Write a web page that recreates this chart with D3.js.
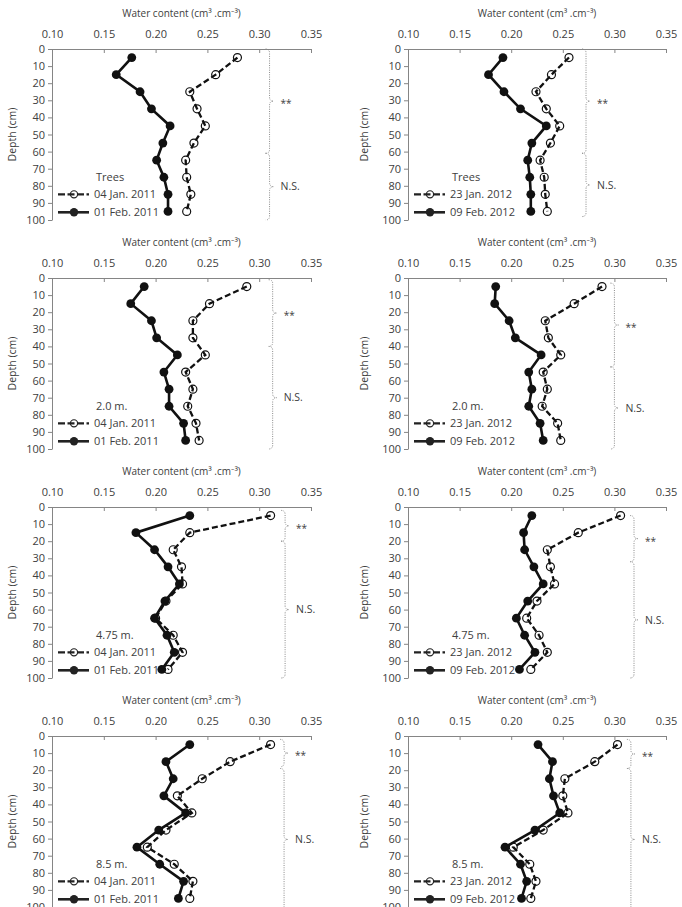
<!DOCTYPE html>
<html>
<head>
<meta charset="utf-8">
<script src="https://cdn.jsdelivr.net/npm/d3@7"></script>
<style>
  html, body { margin: 0; padding: 0; background: #fff; }
  svg text { font-family: "Open Sans", "Noto Sans", sans-serif; fill: #404040; }
</style>
</head>
<body>
<svg id="chart" width="682" height="907"></svg>
<script>
// ---------------- DATA ----------------
const depths = [5, 15, 25, 35, 45, 55, 65, 75, 85, 95];
const xTicks = [0.10, 0.15, 0.20, 0.25, 0.30, 0.35];
const yTicks = [0, 10, 20, 30, 40, 50, 60, 70, 80, 90, 100];

const positions = ["Trees", "2.0 m.", "4.75 m.", "8.5 m."];
const dates2011 = ["04 Jan. 2011", "01 Feb. 2011"];
const dates2012 = ["23 Jan. 2012", "09 Feb. 2012"];

const treesJan2011 = [0.279, 0.258, 0.233, 0.240, 0.248, 0.237, 0.229, 0.230, 0.234, 0.230];
const treesFeb2011 = [0.177, 0.162, 0.185, 0.196, 0.214, 0.207, 0.201, 0.208, 0.212, 0.212];
const treesJan2012 = [0.256, 0.239, 0.224, 0.234, 0.247, 0.238, 0.228, 0.232, 0.233, 0.235];
const treesFeb2012 = [0.192, 0.178, 0.193, 0.209, 0.234, 0.220, 0.216, 0.218, 0.219, 0.219];

const m2Jan2011 = [0.288, 0.252, 0.236, 0.236, 0.248, 0.229, 0.236, 0.231, 0.239, 0.242];
const m2Feb2011 = [0.189, 0.176, 0.196, 0.201, 0.221, 0.208, 0.213, 0.213, 0.227, 0.229];
const m2Jan2012 = [0.288, 0.261, 0.233, 0.236, 0.248, 0.231, 0.235, 0.230, 0.245, 0.248];
const m2Feb2012 = [0.185, 0.184, 0.198, 0.204, 0.229, 0.217, 0.220, 0.217, 0.228, 0.231];

const m475Jan2011 = [0.311, 0.233, 0.217, 0.225, 0.226, 0.210, 0.200, 0.217, 0.226, 0.212];
const m475Feb2011 = [0.233, 0.181, 0.199, 0.212, 0.223, 0.209, 0.199, 0.211, 0.218, 0.206];
const m475Jan2012 = [0.306, 0.265, 0.235, 0.238, 0.242, 0.225, 0.215, 0.227, 0.235, 0.219];
const m475Feb2012 = [0.220, 0.212, 0.213, 0.222, 0.231, 0.216, 0.205, 0.213, 0.223, 0.208];

const m85Jan2011 = [0.311, 0.272, 0.245, 0.221, 0.235, 0.210, 0.192, 0.218, 0.236, 0.233];
const m85Feb2011 = [0.233, 0.210, 0.217, 0.208, 0.229, 0.203, 0.182, 0.204, 0.227, 0.222];
const m85Jan2012 = [0.303, 0.281, 0.252, 0.250, 0.255, 0.231, 0.202, 0.218, 0.224, 0.219];
const m85Feb2012 = [0.226, 0.240, 0.237, 0.241, 0.247, 0.223, 0.194, 0.209, 0.215, 0.210];

// significance braces: [fromDepth, toDepth, label], x value of brace
const bracesLabels = ["**", "N.S."];
const panelBraces = [
  { x: 0.310, spans: [[0, 61], [61, 100]] },
  { x: 0.2725, spans: [[0, 61], [61, 98]] },
  { x: 0.313, spans: [[1, 40], [40, 100]] },
  { x: 0.300, spans: [[3, 52], [52, 100]] },
  { x: 0.325, spans: [[2, 20], [20, 100]] },
  { x: 0.319, spans: [[5, 32], [32, 100]] },
  { x: 0.324, spans: [[2, 18], [19, 102]] },
  { x: 0.316, spans: [[2, 19], [19, 102]] }
];

const panels = [
  { label: positions[0], dates: dates2011, jan: treesJan2011, feb: treesFeb2011 },
  { label: positions[0], dates: dates2012, jan: treesJan2012, feb: treesFeb2012 },
  { label: positions[1], dates: dates2011, jan: m2Jan2011, feb: m2Feb2011 },
  { label: positions[1], dates: dates2012, jan: m2Jan2012, feb: m2Feb2012 },
  { label: positions[2], dates: dates2011, jan: m475Jan2011, feb: m475Feb2011 },
  { label: positions[2], dates: dates2012, jan: m475Jan2012, feb: m475Feb2012 },
  { label: positions[3], dates: dates2011, jan: m85Jan2011, feb: m85Feb2011 },
  { label: positions[3], dates: dates2012, jan: m85Jan2012, feb: m85Feb2012 }
];

// ---------------- LAYOUT ----------------
const colX = [52, 408];
const colW = [259, 258];
const rowY = [49, 278, 507, 736];
const plotH = 171;
const axisColor = "#858585";

const svg = d3.select("#chart");

function bracePath(vx, y1, y2, w) {
  const mid = (y1 + y2) / 2;
  const x = vx - w;
  return `M${x},${y1} Q${vx},${y1} ${vx},${y1 + w} L${vx},${mid - w} Q${vx},${mid} ${vx + w},${mid} ` +
         `Q${vx},${mid} ${vx},${mid + w} L${vx},${y2 - w} Q${vx},${y2} ${x},${y2}`;
}

panels.forEach((p, i) => {
  const c = i % 2, r = Math.floor(i / 2);
  const x0 = colX[c], w = colW[c], y0 = rowY[r];
  const x = d3.scaleLinear().domain([0.10, 0.35]).range([x0, x0 + w]);
  const y = d3.scaleLinear().domain([0, 100]).range([y0, y0 + plotH]);
  const g = svg.append("g");

  // x axis (top)
  const xa = g.append("g").attr("transform", `translate(0,${y0})`)
    .call(d3.axisTop(x).tickValues(xTicks).tickFormat(d3.format(".2f"))
      .tickSizeInner(-4).tickSizeOuter(0).tickPadding(11));
  // y axis
  const ya = g.append("g").attr("transform", `translate(${x0},0)`)
    .call(d3.axisLeft(y).tickValues(yTicks).tickSizeInner(4).tickSizeOuter(0).tickPadding(3));
  [xa, ya].forEach(a => {
    a.selectAll("path, line").attr("stroke", axisColor).attr("stroke-width", 1);
    a.selectAll("text").attr("font-size", 11).attr("fill", "#404040")
      .style("font-family", "'Open Sans', sans-serif");
  });

  // axis titles
  g.append("text").attr("x", x0 + w / 2).attr("y", y0 - 32)
    .attr("text-anchor", "middle").attr("font-size", 10)
    .text("Water content (cm³ .cm⁻³)");
  const ylx = c === 0 ? 12 : 364;
  g.append("text").attr("transform", `translate(${ylx},${y0 + plotH / 2}) rotate(-90)`)
    .attr("text-anchor", "middle").attr("dy", "0.35em").attr("font-size", 10.5)
    .text("Depth (cm)");

  // braces
  const b = panelBraces[i];
  b.spans.forEach((s, k) => {
    const vx = x(b.x);
    const ya1 = y(s[0]), ya2 = y(s[1]);
    g.append("path").attr("d", bracePath(vx, ya1, ya2, 4))
      .attr("fill", "none").attr("stroke", "#8a8a8a").attr("stroke-width", 1)
      .attr("stroke-dasharray", "1,1.3");
    g.append("text").attr("x", vx + 11).attr("y", (ya1 + ya2) / 2)
      .attr("dy", k === 0 ? "0.6em" : "0.35em").attr("font-size", k === 0 ? 10 : 10.5)
      .attr("fill", "#555")
      .text(bracesLabels[k]);
  });

  const line = d3.line().x(d => x(d[0])).y(d => y(d[1]));
  const janPts = p.jan.map((v, j) => [v, depths[j]]);
  const febPts = p.feb.map((v, j) => [v, depths[j]]);

  // dashed series (first date): open markers, line drawn through
  g.selectAll(null).data(janPts).enter().append("circle")
    .attr("cx", d => x(d[0])).attr("cy", d => y(d[1])).attr("r", 4)
    .attr("fill", "#fff").attr("stroke", "#111").attr("stroke-width", 1.2);
  g.append("path").attr("d", line(janPts)).attr("fill", "none")
    .attr("stroke", "#111").attr("stroke-width", 2.3).attr("stroke-dasharray", "6,3");

  // solid series (second date)
  g.append("path").attr("d", line(febPts)).attr("fill", "none")
    .attr("stroke", "#111").attr("stroke-width", 2.6);
  g.selectAll(null).data(febPts).enter().append("circle")
    .attr("cx", d => x(d[0])).attr("cy", d => y(d[1])).attr("r", 4.4)
    .attr("fill", "#111");

  // legend
  const lx = x0 + 6;
  g.append("text").attr("x", x0 + 44).attr("y", y(77)).attr("font-size", 11).text(p.label);
  const l1 = y(85), l2 = y(95.5);
  g.append("circle").attr("cx", lx + 16).attr("cy", l1).attr("r", 3.6)
    .attr("fill", "#fff").attr("stroke", "#222").attr("stroke-width", 1.2);
  g.append("line").attr("x1", lx).attr("x2", lx + 31).attr("y1", l1).attr("y2", l1)
    .attr("stroke", "#222").attr("stroke-width", 2.3).attr("stroke-dasharray", "7,2.5");
  g.append("text").attr("x", x0 + 42).attr("y", l1).attr("dy", "0.35em")
    .attr("font-size", 11).text(p.dates[0]);
  g.append("line").attr("x1", lx).attr("x2", lx + 31).attr("y1", l2).attr("y2", l2)
    .attr("stroke", "#222").attr("stroke-width", 2.6);
  g.append("circle").attr("cx", lx + 16).attr("cy", l2).attr("r", 4.2).attr("fill", "#222");
  g.append("text").attr("x", x0 + 42).attr("y", l2).attr("dy", "0.35em")
    .attr("font-size", 11).text(p.dates[1]);
});
</script>
</body>
</html>
